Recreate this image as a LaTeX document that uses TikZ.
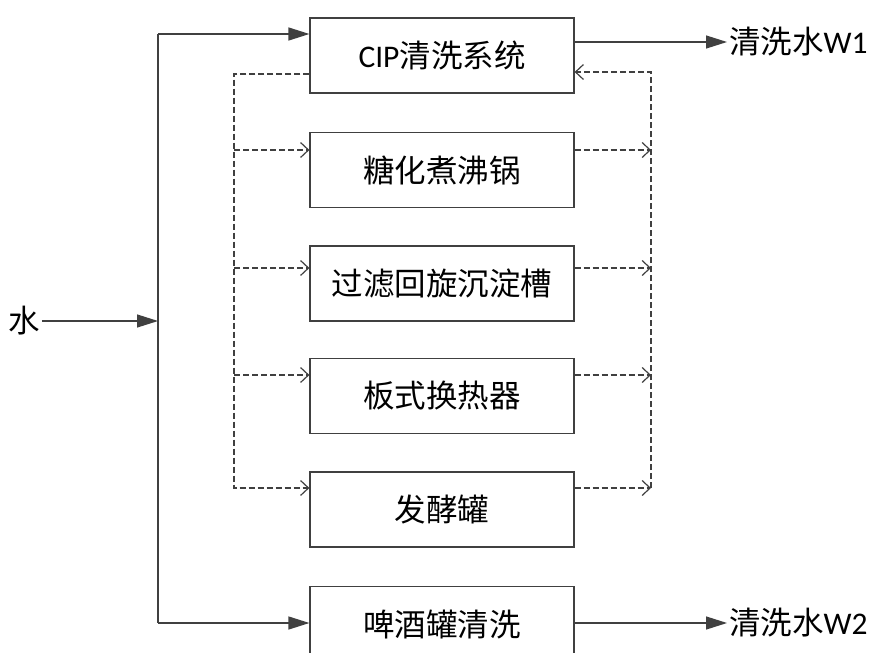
\documentclass[tikz,border=0pt]{standalone}
\usepackage{fontspec}
\setmainfont{Noto Sans CJK SC}
\newfontfamily\latfont{Carlito}
\usetikzlibrary{arrows.meta}
\definecolor{lc}{HTML}{404040}
\newcommand\diaglbl{\fontsize{31.5}{38}\selectfont}
\begin{document}
\begin{tikzpicture}[x=1pt,y=-1pt,
  box/.style={draw=lc,line width=1.2pt,minimum width=264pt,minimum height=75pt,inner sep=0pt,font=\diaglbl},
  lbl/.style={font=\diaglbl,inner sep=2pt},
  flow/.style={draw=lc,line width=1.3pt,-{Triangle[length=21pt,width=13pt]}},
  plain/.style={draw=lc,line width=1.3pt},
  dsh/.style={draw=lc,line width=1.2pt,dash pattern=on 6pt off 3pt},
  darr/.style={dsh,-{Straight Barb[length=8pt,width=15pt]}}]
\useasboundingbox (0,0) rectangle (873,653);
% boxes
\node[box] (cip) at (442,55.5) {{\latfont CIP}清洗系统};
\node[box] (b1) at (442,170) {糖化煮沸锅};
\node[box] (b2) at (442,283.5) {过滤回旋沉淀槽};
\node[box] (b3) at (442,396) {板式换热器};
\node[box] (b4) at (442,509.5) {发酵罐};
\node[box] (beer) at (442,624) {啤酒罐清洗};
% labels
\node[lbl] (water) at (24,321) {水};
\node[lbl,anchor=west] (w1) at (727,42) {清洗水{\latfont W1}};
\node[lbl,anchor=west] (w2) at (727,623) {清洗水{\latfont W2}};
% coordinates
\coordinate (top) at (158,34);
\coordinate (bot) at (158,623);
\coordinate (jn) at (158,321);
\coordinate (lt) at (234,74);
\coordinate (lb) at (234,488);
\coordinate (rt) at (651,72);
\coordinate (rb) at (651,488);
% solid flows
\draw[flow] (water.east) -- (jn);
\draw[plain] (top) -- (bot);
\draw[flow] (top) -- (cip.west |- top);
\draw[flow] (bot) -- (beer.west |- bot);
\draw[flow] (cip.east |- w1.west) -- (w1.west);
\draw[flow] (beer.east |- w2.west) -- (w2.west);
% dashed left distribution
\draw[darr] (cip.west |- lt) -- (lt) -- (lb) -- (b4.west |- lb);
\draw[darr] (lt |- 0,150) -- (b1.west |- 0,150);
\draw[darr] (lt |- 0,268) -- (b2.west |- 0,268);
\draw[darr] (lt |- 0,375) -- (b3.west |- 0,375);
% dashed right return
\draw[darr] (b1.east |- 0,150) -- (rt |- 0,150);
\draw[darr] (b2.east |- 0,268) -- (rt |- 0,268);
\draw[darr] (b3.east |- 0,375) -- (rt |- 0,375);
\draw[darr] (b4.east |- rb) -- (rb);
\draw[darr] (rb) -- (rt) -- (cip.east |- rt);
\end{tikzpicture}
\end{document}
